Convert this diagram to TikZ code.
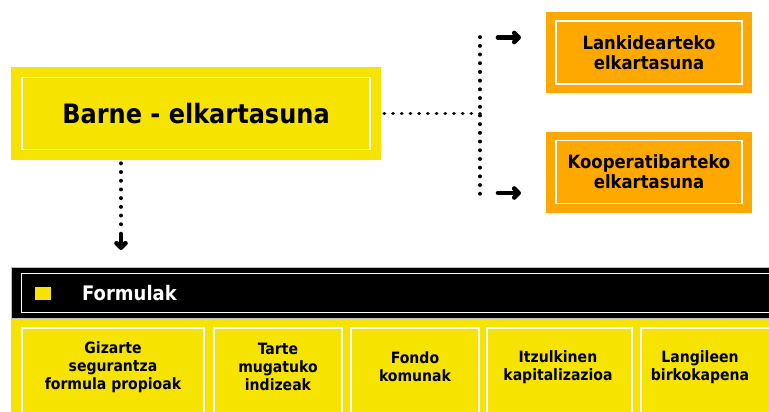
\documentclass[tikz,border=0pt]{standalone}
\usepackage{fontspec}
\setmainfont{DejaVu Sans Condensed}
\usetikzlibrary{arrows.meta}
\definecolor{ylw}{RGB}{246,228,0}
\definecolor{orng}{RGB}{255,168,0}
\tikzset{
    framed/.style 2 args={path picture={\draw[white,line width=1.2pt]
        ([shift={(#1,-#2)}]path picture bounding box.north west) rectangle
        ([shift={(-#1,#2)}]path picture bounding box.south east);}},
    mainbox/.style={fill=ylw, framed={11pt}{10.5pt}, minimum width=370pt, minimum height=93pt,
        font=\bfseries\fontsize{26.7}{30}\selectfont},
    subbox/.style={fill=orng, framed={10pt}{9pt}, minimum width=206pt, minimum height=81pt,
        align=center, font=\bfseries\fontsize{18.3}{20}\selectfont},
    celltext/.style={align=center, font=\bfseries\fontsize{15.6}{18}\selectfont},
    dots/.style={line width=3.6pt, line cap=round, dash pattern=on 0.3pt off 8.4pt},
    fat/.style={line width=4.6pt, line cap=round, -{Straight Barb[length=4.5pt,width=9pt,line cap=round,line join=round]}}
}
\begin{document}
\begin{tikzpicture}[x=1pt,y=-1pt]
    \useasboundingbox (0,0) rectangle (769,412);
    \clip (0,0) rectangle (769,412);
    \node[mainbox] (barne) at (196,113.5) {Barne - elkartasuna};
    \node[subbox] (lank) at (649,52.5) {Lankidearteko\\elkartasuna};
    \node[subbox] (koop) at (649,172) {Kooperatibarteko\\elkartasuna};
    % loturak
    \coordinate (jn) at (480,0 |- barne.east);
    \draw[dots] (barne.east) ++(3,0) -- (jn);
    \draw[dots] (480,37) -- (480,195);
    \draw[fat] (498,37.5) -- (521,37.5);
    \draw[fat] (498,193) -- (521,193);
    \draw[dots] (121,0 |- barne.south) ++(0,3) -- (121,228);
    \draw[fat] (121,234) -- (121,250);
    % formulak
    \fill[ylw] (11,318) rectangle (780,420);
    \node[fill=black, draw=gray!50, line width=0.8pt, framed={10pt}{6pt}, inner sep=0,
        minimum width=780pt, minimum height=51pt, anchor=north west] (bar) at (11,267) {};
    \fill[ylw] (35,287) rectangle (51,300);
    \node[anchor=west, inner sep=0, text=white, font=\bfseries\fontsize{20}{24}\selectfont]
        (formulak) at (82,293) {Formulak};
    \foreach \x/\w in {22/182,214/128,351/128,487/145,641/140}
        \draw[white, line width=1.2pt] (\x,328) rectangle ++(\w,100);
    \foreach \n/\x/\t in {1/113/{Gizarte\\segurantza\\formula propioak},
            2/278/{Tarte\\mugatuko\\indizeak}, 3/415/{Fondo\\komunak},
            4/558/{Itzulkinen\\kapitalizazioa}, 5/700/{Langileen\\birkokapena}}
        \node[celltext] (cell\n) at (\x,367) {\t};
\end{tikzpicture}
\end{document}
